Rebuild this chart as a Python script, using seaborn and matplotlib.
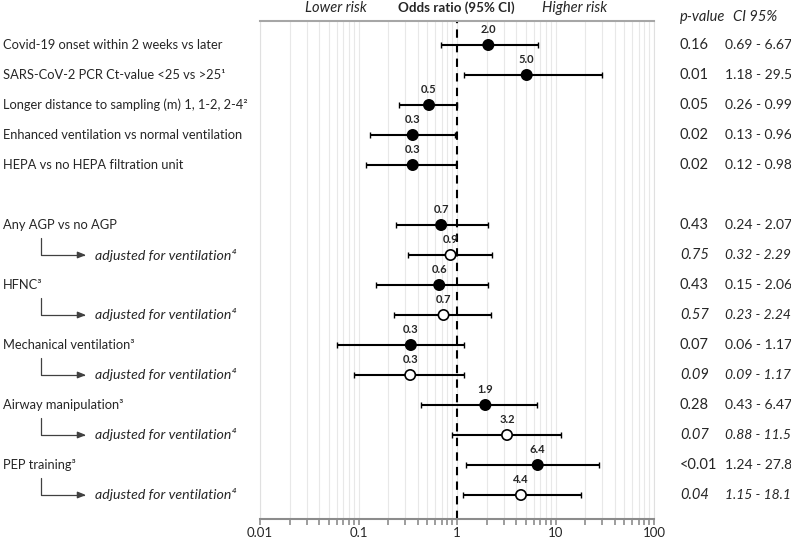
import numpy as np
import pandas as pd
import seaborn as sns
import matplotlib.pyplot as plt
import matplotlib.transforms as mtransforms
from matplotlib.ticker import FuncFormatter, NullFormatter, LogLocator

# rows of the forest plot (row 5 is an empty spacer)
labels = ["Covid-19 onset within 2 weeks vs later",
          "SARS-CoV-2 PCR Ct-value <25 vs >25¹",
          "Longer distance to sampling (m) 1, 1-2, 2-4²",
          "Enhanced ventilation vs normal ventilation",
          "HEPA vs no HEPA filtration unit",
          "Any AGP vs no AGP",
          "adjusted for ventilation⁴",
          "HFNC³",
          "adjusted for ventilation⁴",
          "Mechanical ventilation³",
          "adjusted for ventilation⁴",
          "Airway manipulation³",
          "adjusted for ventilation⁴",
          "PEP training³",
          "adjusted for ventilation⁴"]
rows = [0, 1, 2, 3, 4, 6, 7, 8, 9, 10, 11, 12, 13, 14, 15]
adjusted = [False, False, False, False, False, False, True, False, True, False, True, False, True, False, True]
odds = [2.08, 5.1, 0.52, 0.355, 0.355, 0.69, 0.86, 0.66, 0.73, 0.34, 0.335, 1.94, 3.22, 6.6, 4.46]
odds_text = ["2.0", "5.0", "0.5", "0.3", "0.3", "0.7", "0.9", "0.6", "0.7", "0.3", "0.3", "1.9", "3.2", "6.4", "4.4"]
ci_lo = [0.69, 1.18, 0.26, 0.13, 0.12, 0.24, 0.32, 0.15, 0.23, 0.06, 0.09, 0.43, 0.88, 1.24, 1.15]
ci_hi = [6.67, 29.5, 0.99, 0.96, 0.98, 2.07, 2.29, 2.06, 2.24, 1.17, 1.17, 6.47, 11.5, 27.8, 18.1]
p_values = ["0.16", "0.01", "0.05", "0.02", "0.02", "0.43", "0.75", "0.43", "0.57", "0.07", "0.09",
            "0.28", "0.07", "<0.01", "0.04"]

df = pd.DataFrame({"label": labels, "row": rows, "adjusted": adjusted, "odds": odds,
                   "lo": ci_lo, "hi": ci_hi, "p": p_values, "txt": odds_text})

sns.set_style("white")
plt.rcParams["font.family"] = ["Lato", "DejaVu Sans"]

W, H = 791, 544
fig = plt.figure(figsize=(W / 100, H / 100), dpi=100)
ax = fig.add_axes([260 / W, 1 - 519 / H, (654 - 260) / W, (519 - 21) / H])

ax.set_xscale("log")
ax.set_xlim(0.01, 100)
ax.set_ylim(15.8, -0.8)

# grid
ax.xaxis.set_major_locator(LogLocator(base=10))
ax.xaxis.set_minor_locator(LogLocator(base=10, subs=np.arange(2, 10)))
ax.grid(True, which="both", axis="x", color="#e8e8e8", lw=0.8)
ax.set_axisbelow(True)
ax.set_yticks([])

for s in ["left", "right"]:
    ax.spines[s].set_color("#e0e0e0")
    ax.spines[s].set_linewidth(0.8)
ax.spines["top"].set_color("#a6a6a6")
ax.spines["top"].set_linewidth(1.5)
ax.spines["bottom"].set_color("#8c8c8c")
ax.spines["bottom"].set_linewidth(1.5)
ax.tick_params(axis="x", which="both", direction="out", length=4, width=1.2, color="#8c8c8c",
               labelsize=9.5, pad=2, bottom=True)
ax.xaxis.set_major_formatter(FuncFormatter(lambda v, _: f"{v:g}"))
ax.xaxis.set_minor_formatter(NullFormatter())

ax.axvline(1, color="black", ls=(0, (4, 3)), lw=1.5, zorder=2)

ax.errorbar(df["odds"], df["row"], xerr=[df["odds"] - df["lo"], df["hi"] - df["odds"]],
            fmt="none", ecolor="black", elinewidth=1.5, capsize=2.5, capthick=1, zorder=3)
sns.scatterplot(data=df, x="odds", y="row", hue="adjusted", palette={False: "black", True: "white"},
                edgecolor="black", linewidth=1.2, s=55, legend=False, zorder=4, ax=ax)
ax.set_xlabel("")
ax.set_ylabel("")

for _, r in df.iterrows():
    ax.text(r["odds"], r["row"] - 0.53, r["txt"], ha="center", va="center",
            fontsize=8, fontweight="bold")

# text columns outside the axes
tr = mtransforms.blended_transform_factory(fig.transFigure, ax.transData)
for _, r in df.iterrows():
    style = "italic" if r["adjusted"] else "normal"
    if r["adjusted"]:
        fig.text(95 / W, r["row"], r["label"], transform=tr, ha="left", va="center",
                 fontsize=10.2, style="italic")
        ax.annotate("", xy=(86 / W, r["row"]), xycoords=tr, xytext=(41 / W, r["row"] - 0.58),
                    textcoords=tr, annotation_clip=False,
                    arrowprops=dict(arrowstyle="-|>,head_length=0.5,head_width=0.2", color="#404040",
                                    lw=0.9, shrinkA=0, shrinkB=0,
                                    connectionstyle="angle,angleA=90,angleB=0,rad=0"))
    else:
        fig.text(3 / W, r["row"], r["label"], transform=tr, ha="left", va="center", fontsize=9.3)
    fig.text(680 / W, r["row"], r["p"], transform=tr, ha="left", va="center", fontsize=10.5, style=style)
    fig.text(725 / W, r["row"], f"{r['lo']} - {r['hi']}", transform=tr, ha="left", va="center",
             fontsize=10, style=style)

fig.text(336 / W, 1 - 8 / H, "Lower risk", ha="center", va="center", fontsize=10.5, style="italic")
fig.text(456 / W, 1 - 8 / H, "Odds ratio (95% CI)", ha="center", va="center", fontsize=9.6,
         fontweight="bold")
fig.text(575 / W, 1 - 8 / H, "Higher risk", ha="center", va="center", fontsize=10.5, style="italic")
fig.text(680 / W, 1 - 17 / H, "p-value", ha="left", va="center", fontsize=10.5, style="italic")
fig.text(733 / W, 1 - 17 / H, "CI 95%", ha="left", va="center", fontsize=10.5, style="italic")

fig.savefig("out.png", dpi=100)
